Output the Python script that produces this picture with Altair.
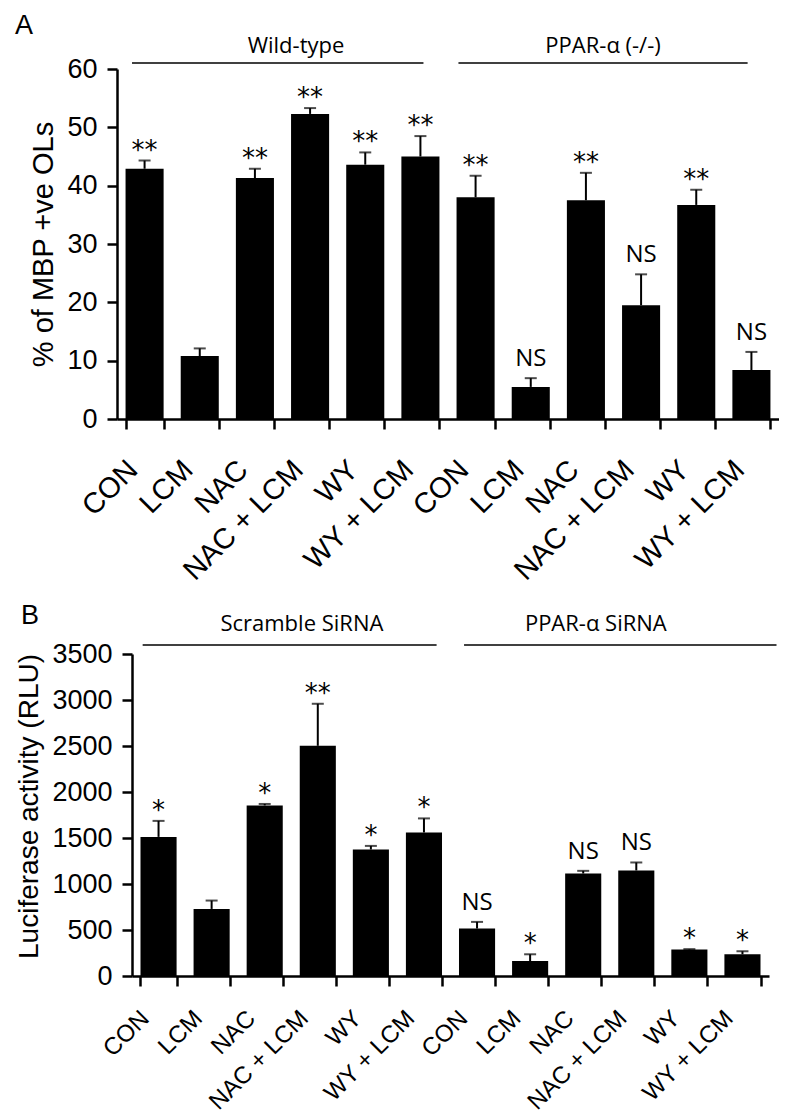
import altair as alt
import pandas as pd

# ---------------- data ----------------
treatments = ["CON", "LCM", "NAC", "NAC + LCM", "WY", "WY + LCM"]

a_groups = ["Wild-type", "PPAR-α (-/-)"]
a_values = [42.9, 10.8, 41.3, 52.3, 43.6, 45.0, 38.0, 5.5, 37.5, 19.5, 36.7, 8.4]
a_sem = [1.4, 1.3, 1.6, 1.0, 2.1, 3.5, 3.7, 1.5, 4.7, 5.3, 2.6, 3.1]
a_marks = ["**", "", "**", "**", "**", "**", "**", "NS", "**", "NS", "**", "NS"]
a_ticks = [0, 10, 20, 30, 40, 50, 60]

b_groups = ["Scramble SiRNA", "PPAR-α SiRNA"]
b_values = [1512, 729, 1854, 2502, 1375, 1560, 516, 163, 1114, 1147, 287, 236]
b_sem = [174, 91, 16, 457, 39, 153, 72, 73, 29, 87, 5, 33]
b_marks = ["*", "", "*", "**", "*", "*", "NS", "*", "NS", "NS", "*", "*"]
b_ticks = [0, 500, 1000, 1500, 2000, 2500, 3000, 3500]

AXIS_FONT = "Liberation Sans"
ANNO_FONT = "Open Sans"
STAR_FONT = "DejaVu Sans"


def make_panel(letter, groups, values, sem, marks, ticks, ytitle, width, height,
               x_start, pad, y_title_x, y_title_y, y_title_size, xlabel_size,
               xlabel_pad, letter_x, letter_y, line_y, label_y, group_pos):
    keys = [f"{i:02d}|{t}" for i, t in enumerate(treatments * len(groups))]
    gkeys = [groups[i // len(treatments)] for i in range(len(keys))]
    df = pd.DataFrame({"key": keys, "group": gkeys, "value": values,
                       "sem": sem, "mark": marks})
    df["top"] = df["value"] + df["sem"]

    x_axis = alt.Axis(
        labelExpr="split(datum.value, '|')[1]",
        labelAngle=-45, labelAlign="right", labelBaseline="top",
        labelFontSize=xlabel_size, labelPadding=xlabel_pad, labelOffset=-22,
        labelOverlap=False, tickBand="extent", tickSize=10, title=None,
        labelFont=AXIS_FONT, labelColor="black",
    )
    x_scale = alt.Scale(domain=keys, range=[x_start, width],
                        paddingInner=pad, paddingOuter=pad / 2)
    y_scale = alt.Scale(domain=[ticks[0], ticks[-1]], nice=False)
    y_axis = alt.Axis(
        values=ticks, format="d", labelFontSize=27, labelPadding=10, tickSize=10,
        labelFont=AXIS_FONT, labelColor="black", offset=-x_start,
        title=ytitle, titleX=y_title_x, titleY=y_title_y, titleAngle=270,
        titleAlign="center", titleBaseline="top", titleFontSize=y_title_size,
        titleFontWeight="normal", titleFont=AXIS_FONT, titleColor="black",
    )

    def X(field, bp=None):
        kw = dict(sort=keys, scale=x_scale, axis=x_axis, title=None)
        if bp is not None:
            kw["bandPosition"] = bp
        return alt.X(f"{field}:N", **kw)

    def Y(field):
        return alt.Y(f"{field}:Q", scale=y_scale, axis=y_axis, title=ytitle)

    base = alt.Chart(df)
    bars = base.mark_bar(color="black").encode(x=X("key"), y=Y("value"))
    err = base.mark_rule(color="black", strokeWidth=2).encode(
        x=X("key"), y=Y("value"), y2="top:Q")
    cap = base.mark_tick(color="black", thickness=2, size=12).encode(
        x=X("key"), y=Y("top"))
    stars = base.transform_filter("indexof(datum.mark, '*') >= 0").mark_text(
        font=STAR_FONT, fontSize=26, baseline="alphabetic", dy=-2, color="black"
    ).encode(x=X("key"), y=Y("top"), text="mark:N")
    ns = base.transform_filter("datum.mark == 'NS'").mark_text(
        font=ANNO_FONT, fontSize=24, baseline="alphabetic", dy=-12, color="black"
    ).encode(x=X("key"), y=Y("top"), text="mark:N")

    layers = [bars, err, cap, stars, ns]

    n = len(treatments)
    for gi, g in enumerate(groups):
        s_bp, e_bp, e_dx, l_idx, l_bp = group_pos[gi]
        gdf = pd.DataFrame({
            "start": [keys[gi * n]],
            "end": [keys[gi * n + n - 1]],
            "mid": [keys[gi * n + l_idx]],
            "label": [g],
        })
        gc = alt.Chart(gdf)
        layers.append(gc.mark_rule(color="black", strokeWidth=1.5, x2Offset=e_dx).encode(
            x=X("start", s_bp), x2=alt.X2("end:N", bandPosition=e_bp),
            y=alt.value(line_y)))
        layers.append(gc.mark_text(font=ANNO_FONT, fontSize=22, baseline="alphabetic",
                                   align="center", color="black").encode(
            x=X("mid", l_bp), y=alt.value(label_y), text="label:N"))

    ldf = pd.DataFrame({"letter": [letter]})
    layers.append(alt.Chart(ldf).mark_text(
        font=AXIS_FONT, fontSize=27, align="left", baseline="top", color="black"
    ).encode(x=alt.value(letter_x), y=alt.value(letter_y), text="letter:N"))

    return alt.layer(*layers).properties(width=width, height=height)


panel_a = make_panel(
    "A", a_groups, a_values, a_sem, a_marks, a_ticks, "% of MBP +ve OLs",
    width=662, height=350, x_start=0, pad=0.31, y_title_x=-88, y_title_y=175,
    y_title_size=29, xlabel_size=29, xlabel_pad=26, letter_x=-102, letter_y=-56,
    line_y=-6, label_y=-16,
    group_pos=[(0.17, 0.58, 0, 3, 0.13), (0.05, 0.40, 0, 2, 0.95)],
)
panel_b = make_panel(
    "B", b_groups, b_values, b_sem, b_marks, b_ticks, "Luciferase activity (RLU)",
    width=652, height=322, x_start=15, pad=0.32, y_title_x=-117, y_title_y=152,
    y_title_size=28, xlabel_size=24, xlabel_pad=20, letter_x=-96, letter_y=-51,
    line_y=-9, label_y=-23,
    group_pos=[(0.06, 0.85, 0, 3, 0.06), (0.14, 1.0, 16, 2, 0.85)],
)

chart = alt.vconcat(panel_a, panel_b, spacing=16).properties(
    padding={"left": 7, "top": 4, "right": 0, "bottom": 5}
).configure_axis(
    domainColor="black", domainWidth=2.5, tickColor="black", tickWidth=2.5,
    grid=False,
).configure_view(stroke=None)

chart.save("out.html", embed_options={"renderer": "svg", "actions": False})
